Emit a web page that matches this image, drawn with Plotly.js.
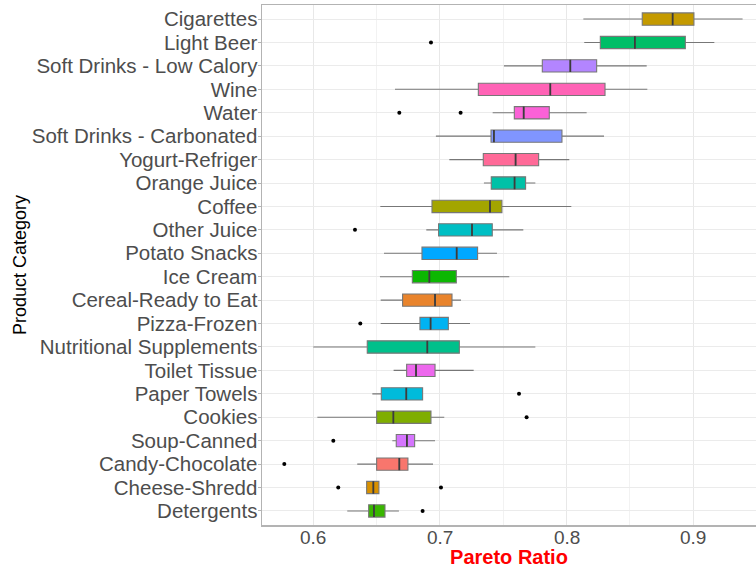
<!DOCTYPE html>
<html><head><meta charset="utf-8">
<script src="https://cdn.plot.ly/plotly-3.0.1.min.js"></script>
<style>html,body{margin:0;padding:0;background:#fff}#chart{width:756px;height:571px}</style>
</head><body><div id="chart"></div>
<script>
// Categories, top to bottom
const categories = ["Cigarettes","Light Beer","Soft Drinks - Low Calory","Wine","Water","Soft Drinks - Carbonated","Yogurt-Refriger","Orange Juice","Coffee","Other Juice","Potato Snacks","Ice Cream","Cereal-Ready to Eat","Pizza-Frozen","Nutritional Supplements","Toilet Tissue","Paper Towels","Cookies","Soup-Canned","Candy-Chocolate","Cheese-Shredd","Detergents"];
const lowerFence = [0.8132,0.8139,0.7505,0.6645,0.7416,0.6968,0.7074,0.7347,0.6529,0.6892,0.6558,0.6526,0.6532,0.6532,0.6000,0.6634,0.6466,0.6032,0.6624,0.6347,0.6421,0.6268];
const q1Vals     = [0.8597,0.8266,0.7808,0.7303,0.7587,0.7403,0.7342,0.7405,0.6937,0.6989,0.6858,0.6782,0.6705,0.6842,0.6426,0.6737,0.6537,0.6500,0.6655,0.6500,0.6421,0.6437];
const medianVals = [0.8837,0.8539,0.8029,0.7871,0.7661,0.7426,0.7597,0.7589,0.7395,0.7253,0.7132,0.6916,0.6961,0.6926,0.6900,0.6811,0.6734,0.6632,0.6739,0.6679,0.6474,0.6479];
const q3Vals     = [0.9005,0.8937,0.8237,0.8303,0.7863,0.7963,0.7779,0.7676,0.7489,0.7413,0.7297,0.7129,0.7095,0.7066,0.7153,0.6961,0.6863,0.6929,0.6800,0.6747,0.6518,0.6566];
const upperFence = [0.9389,0.9166,0.8632,0.8637,0.8158,0.8295,0.8021,0.7753,0.8037,0.7658,0.7450,0.7547,0.7166,0.7237,0.7753,0.7266,0.6863,0.7034,0.6961,0.6945,0.6518,0.6676];
const fillColors = ["#C49A00","#00BE67","#B385FF","#FF63B6","#FB61D7","#8095FF","#FF6A98","#00C1A7","#A3A500","#00BFC4","#00A8FF","#0CB702","#E9842C","#00B3F2","#00C08B","#ED68ED","#00BBDB","#7FAE00","#D575FE","#F8766D","#D89000","#39B600"];
// Outliers
const outlierCats = ["Light Beer","Water","Water","Other Juice","Pizza-Frozen","Paper Towels","Cookies","Soup-Canned","Candy-Chocolate","Cheese-Shredd","Cheese-Shredd","Detergents"];
const outlierVals = [0.6929,0.6679,0.7163,0.6329,0.6371,0.7624,0.7684,0.6158,0.5771,0.6197,0.7008,0.6863];
// X axis ticks
const xTickVals = [0.6, 0.7, 0.8, 0.9];
const xTickText = ["0.6", "0.7", "0.8", "0.9"];

const traces = categories.map((c, i) => ({
  type: 'box', orientation: 'h',
  y: [c], q1: [q1Vals[i]], median: [medianVals[i]], q3: [q3Vals[i]],
  lowerfence: [lowerFence[i]], upperfence: [upperFence[i]],
  fillcolor: fillColors[i], line: {color: '#777777', width: 1.1},
  whiskerwidth: 0, showlegend: false, hoverinfo: 'x'
}));
// darker, thicker median lines (zero-width boxes at the median)
categories.forEach((c, i) => traces.push({
  type: 'box', orientation: 'h',
  y: [c], q1: [medianVals[i]], median: [medianVals[i]], q3: [medianVals[i]],
  lowerfence: [medianVals[i]], upperfence: [medianVals[i]],
  fillcolor: 'rgba(0,0,0,0)', line: {color: '#3c3c3c', width: 1.8},
  whiskerwidth: 0, showlegend: false, hoverinfo: 'skip'
}));
traces.push({
  type: 'scatter', mode: 'markers', x: outlierVals, y: outlierCats,
  marker: {color: '#000', size: 4}, showlegend: false
});

const font = 'Liberation Sans, Arial, sans-serif';
const annotations = xTickVals.map((v, i) => ({
  x: v, xref: 'x', y: -0.0231, yref: 'paper', yanchor: 'middle', xanchor: 'center',
  borderpad: 0, text: xTickText[i], showarrow: false,
  font: {size: 19, color: '#4d4d4d', family: font}
}));
const layout = {
  width: 756, height: 571,
  margin: {l: 262, r: 0, t: 5, b: 46},
  paper_bgcolor: '#fff', plot_bgcolor: '#fff',
  boxmode: 'overlay', boxgap: 0.25,
  font: {family: font},
  annotations: annotations,
  xaxis: {
    range: [0.5595, 0.9495], tickmode: 'array', tickvals: xTickVals, ticktext: xTickText,
    showticklabels: false,
    showgrid: true, gridcolor: '#e8e8e8', gridwidth: 1,
    minor: {dtick: 0.05, tick0: 0.6, showgrid: true, gridcolor: '#f2f2f2', gridwidth: 1},
    zeroline: false, showline: true, mirror: true, linecolor: '#b3b3b3', linewidth: 1.5,
    ticks: '',
    title: {text: 'Pareto Ratio', font: {size: 20, color: '#ff0000', family: font, weight: 'bold'}, standoff: 24}
  },
  yaxis: {
    type: 'category', categoryorder: 'array', categoryarray: categories,
    range: [21.6, -0.6], tickmode: 'linear', tick0: 0, dtick: 1,
    showgrid: true, gridcolor: '#ebebeb', gridwidth: 1,
    zeroline: false, showline: true, mirror: true, linecolor: '#b3b3b3', linewidth: 1.5,
    ticks: 'outside', ticklen: 3, tickcolor: '#b3b3b3', ticklabelstandoff: -4,
    tickfont: {size: 20.5, color: '#4d4d4d', family: font},
    title: {text: 'Product Category', font: {size: 18, color: '#000', family: font}, standoff: 0}
  }
};
Plotly.newPlot('chart', traces, layout, {displayModeBar: false, staticPlot: true});
</script></body></html>
